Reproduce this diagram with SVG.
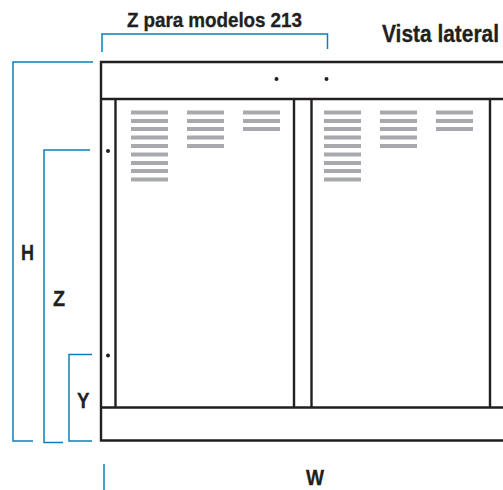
<svg xmlns="http://www.w3.org/2000/svg" width="503" height="490" viewBox="0 0 503 490">
<defs>
<style>
.o{fill:none;stroke:#231f20;stroke-width:2.4}
.d{fill:none;stroke:#0a7fbc;stroke-width:1.5}
.t{font-family:"Liberation Sans",Arial,sans-serif;font-weight:700;fill:#231f20;stroke:#231f20;stroke-width:.3;font-size:22px}
.v{fill:#a7a9ac}
</style>
<g id="v3"><rect class="v" x="0" y="110.5" width="37" height="4"/><rect class="v" x="0" y="119" width="37" height="4"/><rect class="v" x="0" y="127" width="37" height="4"/></g>
<g id="v5"><use href="#v3"/><rect class="v" x="0" y="135.5" width="37" height="4"/><rect class="v" x="0" y="144" width="37" height="4"/></g>
<g id="v9"><use href="#v5"/><rect class="v" x="0" y="152.5" width="37" height="4"/><rect class="v" x="0" y="161" width="37" height="4"/><rect class="v" x="0" y="169" width="37" height="4"/><rect class="v" x="0" y="177.5" width="37" height="4"/></g>
</defs>
<rect width="503" height="490" fill="#fff"/>
<g id="cabinet">
<path class="o" d="M503 62H101V440.500H503M101 99H503M101 407.500H503M115.500 99V407.500M294 99V407.500M311.500 99V407.500M490 99V407.500"/>
<circle cx="108" cy="151" r="2" fill="#231f20"/>
<circle cx="108" cy="355.500" r="2" fill="#231f20"/>
<circle cx="276.500" cy="79" r="2" fill="#231f20"/>
<circle cx="326.500" cy="79" r="2" fill="#231f20"/>
</g>
<g id="vents">
<use href="#v9" x="131"/><use href="#v5" x="187"/><use href="#v3" x="243"/>
<use href="#v9" x="324"/><use href="#v5" x="380"/><use href="#v3" x="436"/>
</g>
<g id="connectors">
<path class="d" d="M93 62H13V441H33"/>
<path class="d" d="M90 150H44V442.500H63"/>
<path class="d" d="M92 354.500H69V441H92"/>
<path class="d" d="M102 52V34H327.500V49"/>
<path class="d" d="M104 464V490"/>
</g>
<g id="labels">
<text class="t" style="font-size:21px" transform="translate(127 27) scale(.9 1)" textLength="194.400" lengthAdjust="spacing">Z para modelos 213</text>
<text class="t" style="font-size:23px" transform="translate(382 42) scale(.91 1)">Vista lateral</text>
<text class="t" transform="translate(21 260) scale(.82 1)">H</text>
<text class="t" transform="translate(53 306) scale(.9 1)">Z</text>
<text class="t" transform="translate(77 408) scale(.85 1)">Y</text>
<text class="t" transform="translate(306 485) scale(.87 1)">W</text>
</g>
</svg>
